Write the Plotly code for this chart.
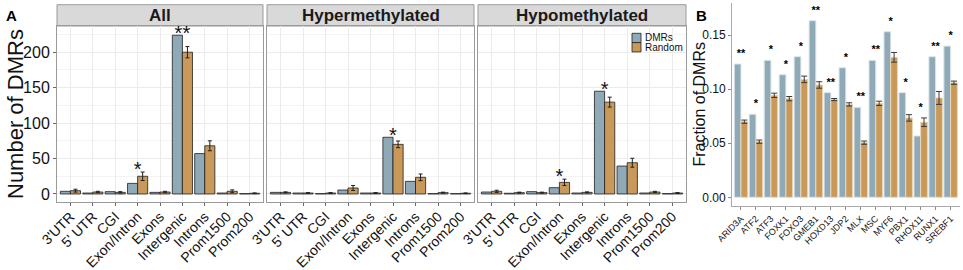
import plotly.graph_objects as go

# ---------------- data ----------------
regions = ["3'UTR", "5' UTR", "CGI", "Exon/Intron", "Exons", "Intergenic", "Introns", "Prom1500", "Prom200"]

all_dmr = [3.8, 1.4, 3.3, 15.0, 2.3, 224.0, 57.0, 1.4, 0.5]
all_rand = [4.7, 2.8, 2.3, 25.0, 2.8, 200.0, 68.0, 3.8, 1.0]
all_err = [2.0, 1.0, 1.0, 6.0, 1.0, 8.0, 7.0, 2.0, 0.5]
all_sig = ["", "", "", "*", "", "**", "", "", ""]

hyper_dmr = [2.3, 1.4, 0.5, 5.6, 1.4, 80.0, 17.8, 0.5, 0.5]
hyper_rand = [2.3, 1.4, 1.4, 8.5, 1.4, 70.0, 23.5, 1.9, 1.0]
hyper_err = [0.7, 0.5, 0.5, 3.5, 0.5, 4.7, 4.7, 0.7, 0.5]
hyper_sig = ["", "", "", "", "", "*", "", "", ""]

hypo_dmr = [2.8, 1.0, 3.3, 8.9, 1.4, 145.0, 39.4, 1.4, 0.5]
hypo_rand = [3.8, 1.9, 1.9, 16.4, 2.3, 129.6, 44.1, 2.8, 1.4]
hypo_err = [1.5, 0.7, 0.7, 4.5, 0.7, 7.0, 6.3, 1.0, 0.5]
hypo_sig = ["", "", "", "*", "", "*", "", "", ""]

panel_titles = ["All", "Hypermethylated", "Hypomethylated"]

genes = ["ARID3A", "ATF2", "ATF3", "FOXK1", "FOXO3", "GMEB1", "HOXD13", "JDP2",
         "MLX", "MSC", "MYF6", "PBX1", "RHOX11", "RUNX1", "SREBF1"]
b_dmr = [0.1234, 0.0769, 0.1268, 0.1135, 0.1302, 0.1635, 0.0969, 0.1200,
         0.0833, 0.1268, 0.1533, 0.0969, 0.0568, 0.1302, 0.1400]
b_rand = [0.0700, 0.0515, 0.0944, 0.0913, 0.1092, 0.1040, 0.0905, 0.0860,
          0.0506, 0.0870, 0.1296, 0.0735, 0.0695, 0.0920, 0.1061]
b_err = [0.0015, 0.0015, 0.0020, 0.0020, 0.0030, 0.0030, 0.0010, 0.0015,
         0.0015, 0.0020, 0.0045, 0.0030, 0.0040, 0.0060, 0.0015]
b_sig = ["**", "*", "*", "*", "*", "**", "**", "*", "**", "**", "*", "*", "*", "**", "*"]

series_names = ["DMRs", "Random"]

# ---------------- style ----------------
W, H = 963, 270
BLUE = "#8FA9B7"
ORANGE = "#C9995A"
FONT = "Liberation Sans, Arial, sans-serif"
BORDER = "#9A9A9A"
GRID = "#EBEBEB"


def px_x(p):
    return p / W


def px_y(p):
    return 1 - p / H


fig = go.Figure()

panelsA = [
    (all_dmr, all_rand, all_err, all_sig),
    (hyper_dmr, hyper_rand, hyper_err, hyper_sig),
    (hypo_dmr, hypo_rand, hypo_err, hypo_sig),
]
domainsA = [(57, 263), (267, 474), (478, 686)]
A_top, A_bot = 26, 202
strip_top = 4.7

for i, (dmr, rnd, err, sig) in enumerate(panelsA):
    xa = "x" if i == 0 else f"x{i+1}"
    ya = "y" if i == 0 else f"y{i+1}"
    fig.add_trace(go.Bar(x=regions, y=dmr, name=series_names[0], width=0.45, offset=-0.45,
                         marker=dict(color=BLUE, line=dict(color="#1f1f1f", width=0.8)),
                         xaxis=xa, yaxis=ya, showlegend=False))
    fig.add_trace(go.Bar(x=regions, y=rnd, name=series_names[1], width=0.45, offset=0,
                         marker=dict(color=ORANGE, line=dict(color="#1f1f1f", width=0.8)),
                         error_y=dict(type="data", array=err, color="#1f1f1f", thickness=1, width=2),
                         xaxis=xa, yaxis=ya, showlegend=False))
    sx = [regions[k] for k in range(len(regions)) if sig[k]]
    sy = [max(dmr[k], rnd[k] + err[k]) + 1 for k in range(len(regions)) if sig[k]]
    st = [sig[k] for k in range(len(regions)) if sig[k]]
    fig.add_trace(go.Scatter(x=sx, y=sy, text=st, mode="text", textposition="middle center",
                             textfont=dict(size=20, color="#111", family=FONT), cliponaxis=False,
                             xaxis=xa, yaxis=ya, showlegend=False, hoverinfo="skip"))

# panel B
fig.add_trace(go.Bar(x=genes, y=b_dmr, name=series_names[0], width=0.45, offset=-0.45,
                     marker=dict(color=BLUE, line=dict(color="#DCE6EA", width=1)),
                     xaxis="x4", yaxis="y4", showlegend=False))
fig.add_trace(go.Bar(x=genes, y=b_rand, name=series_names[1], width=0.45, offset=0,
                     marker=dict(color=ORANGE, line=dict(color="#E8D6B8", width=1)),
                     error_y=dict(type="data", array=b_err, color="#3a3a3a", thickness=1, width=3),
                     xaxis="x4", yaxis="y4", showlegend=False))
fig.add_trace(go.Scatter(x=genes, y=[max(b_dmr[k], b_rand[k] + b_err[k]) + 0.009 for k in range(len(genes))],
                         text=[f"<b>{s}</b>" for s in b_sig], mode="text", textposition="middle center",
                         textfont=dict(size=11, color="#000", family=FONT), cliponaxis=False,
                         xaxis="x4", yaxis="y4", showlegend=False, hoverinfo="skip"))

layout = dict(
    template="none",
    width=W, height=H, margin=dict(l=0, r=0, t=0, b=0, pad=0),
    paper_bgcolor="white", plot_bgcolor="white",
    barmode="overlay", showlegend=False,
    font=dict(family=FONT, color="#111"),
)

yrangeA = [-11.3, 237.0]
for i, (x0, x1) in enumerate(domainsA):
    xk = "xaxis" if i == 0 else f"xaxis{i+1}"
    yk = "yaxis" if i == 0 else f"yaxis{i+1}"
    ya = "y" if i == 0 else f"y{i+1}"
    xa = "x" if i == 0 else f"x{i+1}"
    layout[xk] = dict(domain=[px_x(x0), px_x(x1)], anchor=ya, type="category", automargin=False,
                      range=[-0.6, len(regions) - 0.4], tickangle=-45, ticklabelstandoff=-3,
                      tickfont=dict(size=14, color="#111"), ticks="outside", ticklen=3,
                      tickcolor="#666", showgrid=True, gridcolor=GRID, gridwidth=1,
                      showline=True, mirror=True, linecolor=BORDER, linewidth=1,
                      fixedrange=True)
    layout[yk] = dict(domain=[px_y(A_bot), px_y(A_top)], anchor=xa, range=yrangeA, automargin=False,
                      tickvals=[0, 50, 100, 150, 200], showticklabels=(i == 0),
                      tickfont=dict(size=16, color="#111"),
                      ticks="outside" if i == 0 else "", ticklen=3, tickcolor="#666",
                      showgrid=True, gridcolor=GRID, gridwidth=1, zeroline=False,
                      minor=dict(dtick=25, tick0=0, showgrid=True, gridcolor="#F4F4F4", gridwidth=0.6),
                      showline=True, mirror=True, linecolor=BORDER, linewidth=1,
                      fixedrange=True)

layout["xaxis4"] = dict(domain=[px_x(732), px_x(959.6)], anchor="y4", type="category", automargin=False,
                        range=[-0.6, len(genes) - 0.4], tickangle=-45,
                        tickfont=dict(size=9, color="#111"), ticks="outside", ticklen=3,
                        tickcolor="#888", showgrid=False, showline=True, linecolor="#AAAAAA",
                        linewidth=1, fixedrange=True)
layout["yaxis4"] = dict(domain=[px_y(206), px_y(3)], anchor="x4", range=[-0.00806, 0.1799], automargin=False,
                        tickvals=[0, 0.05, 0.10, 0.15], tickformat=".2f",
                        tickfont=dict(size=12, color="#111"), ticks="outside", ticklen=3,
                        tickcolor="#888", showgrid=False, zeroline=False, showline=True,
                        linecolor="#AAAAAA", linewidth=1, fixedrange=True)

shapes = []
annotations = []
for i, (x0, x1) in enumerate(domainsA):
    shapes.append(dict(type="rect", xref="paper", yref="paper", x0=px_x(x0), x1=px_x(x1),
                       y0=px_y(A_top), y1=px_y(strip_top), fillcolor="#D9D9D9",
                       line=dict(color=BORDER, width=1), layer="below"))
    annotations.append(dict(text=f"<b>{panel_titles[i]}</b>", xref="paper", yref="paper",
                            x=px_x((x0 + x1) / 2), y=px_y((A_top + strip_top) / 2),
                            xanchor="center", yanchor="middle", showarrow=False,
                            font=dict(size=17, color="#1a1a1a", family=FONT)))

# legend (inside Hypomethylated panel)
leg_items = [(series_names[0], BLUE), (series_names[1], ORANGE)]
kx0, kx1 = 632, 641
ky = 33.3
kh = 9.3
for j, (nm, col) in enumerate(leg_items):
    shapes.append(dict(type="rect", xref="paper", yref="paper", x0=px_x(kx0), x1=px_x(kx1),
                       y0=px_y(ky + (j + 1) * kh), y1=px_y(ky + j * kh), fillcolor=col,
                       line=dict(color="#1f1f1f", width=0.8), layer="above"))
    annotations.append(dict(text=nm, xref="paper", yref="paper", x=px_x(642.5),
                            y=px_y(ky + (j + 0.5) * kh), xanchor="left", yanchor="middle",
                            showarrow=False, font=dict(size=10, color="#111", family=FONT)))

annotations += [
    dict(text="Number of DMRs", xref="paper", yref="paper", x=px_x(15), y=px_y((A_top + A_bot) / 2),
         textangle=-90, xanchor="center", yanchor="middle", showarrow=False,
         font=dict(size=22, color="#111", family=FONT)),
    dict(text="Fraction of DMRs", xref="paper", yref="paper", x=px_x(699), y=px_y(104.5),
         textangle=-90, xanchor="center", yanchor="middle", showarrow=False,
         font=dict(size=16, color="#111", family=FONT)),
    dict(text="<b>A</b>", xref="paper", yref="paper", x=px_x(11.5), y=px_y(15),
         xanchor="center", yanchor="middle", showarrow=False,
         font=dict(size=15, color="#000", family=FONT)),
    dict(text="<b>B</b>", xref="paper", yref="paper", x=px_x(701.5), y=px_y(15.5),
         xanchor="center", yanchor="middle", showarrow=False,
         font=dict(size=15, color="#000", family=FONT)),
]

layout["shapes"] = shapes
layout["annotations"] = annotations
fig.update_layout(**layout)

fig.write_html("out.html", config={"displayModeBar": False},
               post_script="document.body.style.margin='0px';document.body.style.padding='0px';"
                           "document.body.style.overflow='hidden';")
